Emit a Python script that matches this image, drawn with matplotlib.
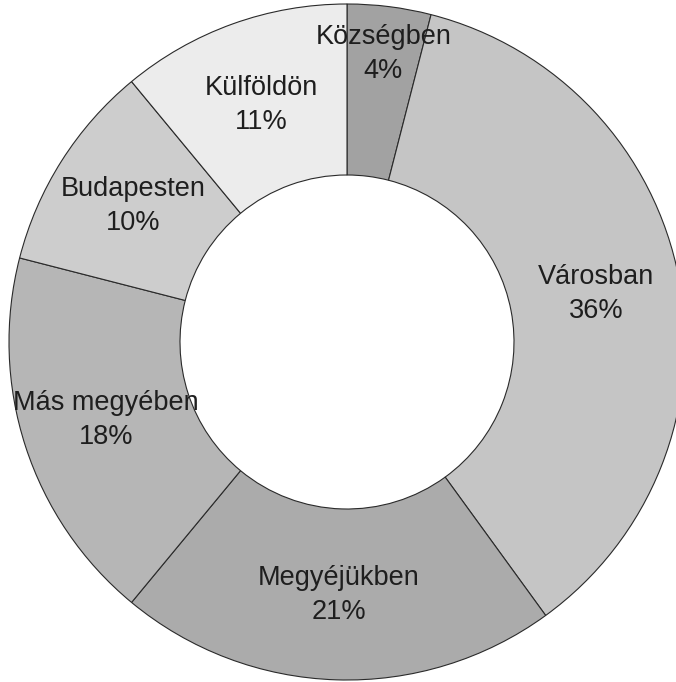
import numpy as np
import matplotlib
matplotlib.use("Agg")
import matplotlib.pyplot as plt

categories = ["Községben", "Városban", "Megyéjükben", "Más megyében", "Budapesten", "Külföldön"]
values = [4, 36, 21, 18, 10, 11]
colors = ["#a2a2a2", "#c5c5c5", "#ababab", "#b6b6b6", "#cdcdcd", "#ececec"]
label_r = [0.86, 0.75, 0.75, 0.75, 0.75, 0.745]

W, H = 676, 682
fig = plt.figure(figsize=(W / 100, H / 100), dpi=100)
ax = fig.add_axes([0, 0, 1, 1])

cx, cy, R = 347, H - 342, 338
width_frac = (338 - 167) / 338

wedges, _ = ax.pie(values, colors=colors, startangle=90, counterclock=False,
                   center=(cx, cy), radius=R,
                   wedgeprops=dict(width=R * width_frac, edgecolor="#2a2a2a", linewidth=0.8))

for w, name, v, rf in zip(wedges, categories, values, label_r):
    ang = np.deg2rad((w.theta1 + w.theta2) / 2)
    x = cx + R * rf * np.cos(ang)
    y = cy + R * rf * np.sin(ang)
    ax.text(x, y, f"{name}\n{v}%", ha="center", va="center", fontsize=19.5,
            family="Liberation Sans", color="#1e1e1e", linespacing=1.4)

ax.set_xlim(0, W)
ax.set_ylim(0, H)
ax.set_aspect("equal")
ax.axis("off")
fig.savefig("out.png", dpi=100, facecolor="white")
